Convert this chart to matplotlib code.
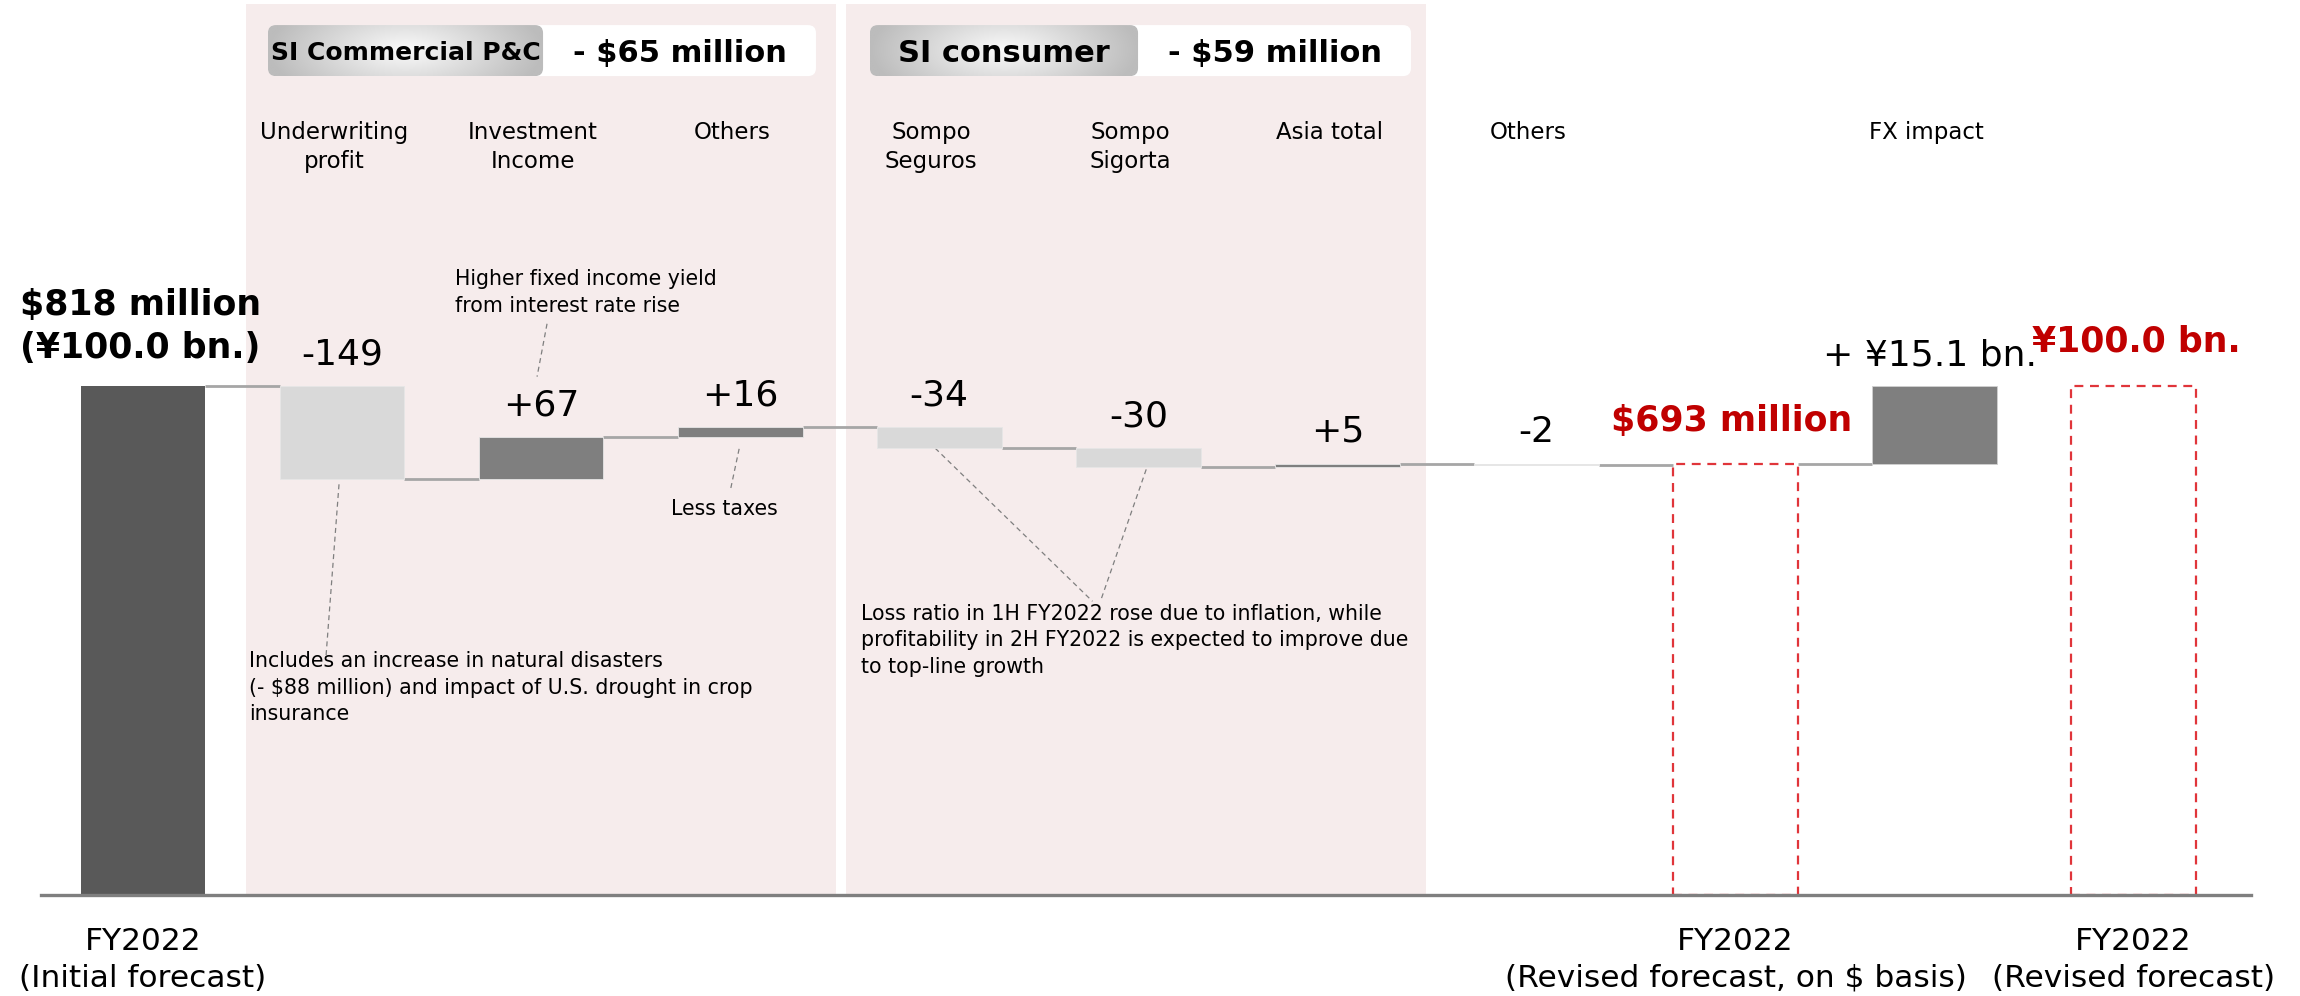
import numpy as np
import matplotlib
matplotlib.use("Agg")
import matplotlib.pyplot as plt
from matplotlib.patches import Rectangle, FancyBboxPatch
from matplotlib.colors import LinearSegmentedColormap

# ======================================================
# DATA  ($ million)
# ======================================================

initial_usd = 818
initial_jpy = 100.0

step_names = [
    "Underwriting\nprofit",
    "Investment\nIncome",
    "Others",
    "Sompo\nSeguros",
    "Sompo\nSigorta",
    "Asia total",
    "Others",
]
step_values = [-149, 67, 16, -34, -30, 5, -2]

revised_usd = 693
fx_jpy = 15.1
revised_jpy = 100.0

segments = ["SI Commercial P&C", "SI consumer"]
segment_totals = ["- $65 million", "- $59 million"]

end_labels = [
    "FY2022\n(Initial forecast)",
    "FY2022\n(Revised forecast, on $ basis)",
    "FY2022\n(Revised forecast)",
]

# ======================================================
# STYLE
# ======================================================

DARK = "#595959"
NEG = "#d9d9d9"
POS = "#7f7f7f"
LINK = "#a6a6a6"
RED = "#c00000"
RED_DASH = "#e0353a"
SHADE = "#f6ecec"
W = 0.627

plt.rcParams["font.family"] = ["DejaVu Sans"]

fig = plt.figure(figsize=(23, 9.96), dpi=100)
ax = fig.add_axes([0, 0, 1, 1])
ax.axis("off")

# ======================================================
# WATERFALL
# ======================================================

n_steps = len(step_values)
x_init = 0
x_steps = np.arange(1, n_steps + 1)
x_total = n_steps + 1
x_fx = n_steps + 2
x_final = n_steps + 3

starts = initial_usd + np.concatenate([[0], np.cumsum(step_values)[:-1]])
ends = starts + np.array(step_values)
revised_equiv = initial_usd * revised_jpy / initial_jpy

ax.bar(x_init, initial_usd, width=W, color=DARK, zorder=3)
for x, s, v in zip(x_steps, starts, step_values):
    ax.bar(x, v, bottom=s, width=W, color=POS if v > 0 else NEG,
           edgecolor="#e6e6e6", linewidth=0.6, zorder=3)
ax.bar(x_fx, revised_equiv - revised_usd, bottom=revised_usd, width=W,
       color=POS, edgecolor="#d0d0d0", linewidth=0.6, zorder=3)

# dashed outline bars for the revised totals
for x, h in [(x_total, revised_usd), (x_final, revised_equiv)]:
    ax.add_patch(Rectangle((x - W / 2, 0), W, h, fill=False,
                           edgecolor=RED_DASH, linewidth=1.6,
                           linestyle=(0, (4, 3)), zorder=3))

# connector lines between neighbouring bars
levels = [initial_usd] + list(ends) + [revised_usd, revised_equiv]
for i in range(len(levels) - 1):
    ax.plot([i + W / 2, i + 1 - W / 2], [levels[i], levels[i]],
            color=LINK, linewidth=2, zorder=2, solid_capstyle="butt")

# base line
ax.plot([-0.513, 10.59], [0, 0], color="#7f7f7f", linewidth=2.4, zorder=4)

# ======================================================
# SHADED SEGMENTS + HEADERS
# ======================================================

ax.add_patch(Rectangle((0.517, 0), 2.965, 1432, color=SHADE, zorder=0, lw=0))
ax.add_patch(Rectangle((3.532, 0), 2.914, 1432, color=SHADE, zorder=0, lw=0))

grey_cmap = LinearSegmentedColormap.from_list("hdr", ["#fafafa", "#bcbcbc"])
gx, gy = np.meshgrid(np.linspace(-1, 1, 300), np.linspace(-1, 1, 80))
grad = np.clip(np.sqrt((gx * 1.0) ** 2 + (gy * 0.45) ** 2), 0, 1)


def header(x0, x1, x2, y0, y1, title, total, title_size):
    white = FancyBboxPatch((x1 - 0.1, y0), x2 - x1 + 0.1, y1 - y0,
                           boxstyle="round,pad=0,rounding_size=0.04",
                           mutation_aspect=320, fc="white", ec="none", zorder=2)
    ax.add_patch(white)
    grey = FancyBboxPatch((x0, y0), x1 - x0, y1 - y0,
                          boxstyle="round,pad=0,rounding_size=0.04",
                          mutation_aspect=320, fc="none", ec="none", zorder=3)
    ax.add_patch(grey)
    img = ax.imshow(grad, extent=(x0, x1, y0, y1), cmap=grey_cmap,
                    aspect="auto", origin="lower", zorder=3)
    img.set_clip_path(grey)
    ym = (y0 + y1) / 2 - 4
    ax.text((x0 + x1) / 2, ym, title, fontsize=title_size,
            fontweight="bold", ha="center", va="center", zorder=5)
    ax.text((x1 + x2) / 2, ym, total, fontsize=22,
            fontweight="bold", ha="center", va="center", zorder=5)


header(0.628, 2.01, 3.381, 1316, 1398, segments[0], segment_totals[0], 18)
header(3.652, 4.999, 6.37, 1316, 1398, segments[1], segment_totals[1], 22)

# ======================================================
# LABELS
# ======================================================

for x, name in zip(x_steps, step_names):
    ax.text(x - 0.04, 1244, name, fontsize=16.5, ha="center", va="top",
            linespacing=1.35)
ax.text(x_fx - 0.04, 1244, "FX impact", fontsize=16.5, ha="center", va="top")

for x, s, e, v in zip(x_steps, starts, ends, step_values):
    ax.annotate(f"{v:+d}", (x, max(s, e)), xytext=(0, 23),
                textcoords="offset points", fontsize=26,
                ha="center", va="center")

ax.annotate(f"+ ¥{fx_jpy:.1f} bn.", (x_fx, revised_equiv), xytext=(-3, 22),
            textcoords="offset points", fontsize=26, ha="center", va="center")

ax.annotate(f"${initial_usd} million\n(¥{initial_jpy:.1f} bn.)",
            (x_init, initial_usd), xytext=(-2, 43), textcoords="offset points",
            fontsize=25, fontweight="bold", ha="center", va="center",
            linespacing=1.32)
ax.annotate(f"${revised_usd} million", (x_total, revised_usd), xytext=(-3, 31),
            textcoords="offset points", fontsize=25, fontweight="bold",
            color=RED, ha="center", va="center")
ax.annotate(f"¥{revised_jpy:.1f} bn.", (x_final, revised_equiv),
            xytext=(2, 32), textcoords="offset points", fontsize=25,
            fontweight="bold", color=RED, ha="center", va="center")

for x, lab in zip([x_init, x_total, x_final], end_labels):
    ax.text(x, -52, lab, fontsize=22.5, ha="center", va="top", linespacing=1.32)

# ======================================================
# NOTES
# ======================================================

note_kw = dict(fontsize=14.8, ha="left", va="center", linespacing=1.4)
ax.text(1.567, 968, "Higher fixed income yield\nfrom interest rate rise",
        **note_kw)
ax.text(2.92, 620, "Less taxes", fontsize=14.8, ha="center", va="center")
ax.text(0.533, 333,
        "Includes an increase in natural disasters\n"
        "(- $88 million) and impact of U.S. drought in crop\n"
        "insurance", **note_kw)
ax.text(3.607, 409,
        "Loss ratio in 1H FY2022 rose due to inflation, while\n"
        "profitability in 2H FY2022 is expected to improve due\n"
        "to top-line growth", **note_kw)

leaders = [
    ((0.985, 660), (0.92, 385)),
    ((2.03, 918), (1.98, 833)),
    ((2.995, 717), (2.95, 649)),
    ((3.98, 718), (4.77, 472)),
    ((5.04, 684), (4.81, 472)),
]
for (xa, ya), (xb, yb) in leaders:
    ax.plot([xa, xb], [ya, yb], color="#7f7f7f", linewidth=0.9,
            linestyle=(0, (4, 3)), zorder=2)

ax.set_xlim(-0.718, 10.836)
ax.set_ylim(-162.3, 1438.3)

plt.savefig("out.png", dpi=100)
